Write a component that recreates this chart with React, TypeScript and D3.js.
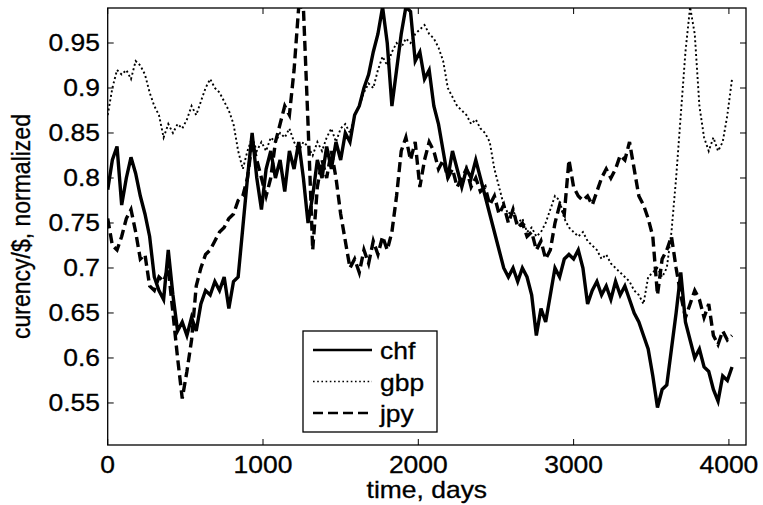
import React from "react";
import * as d3 from "d3";

// sampling grid of the plotted series (days)
const days = d3.range(0, 4021, 30);

// values, one per 30 days
const chf = [
  0.787, 0.82, 0.835, 0.77, 0.8, 0.823, 0.805, 0.78, 0.76, 0.735,
  0.69, 0.675, 0.665, 0.72, 0.67, 0.63, 0.64, 0.625, 0.645, 0.63,
  0.66, 0.675, 0.67, 0.685, 0.675, 0.69, 0.655, 0.685, 0.69, 0.745,
  0.8, 0.85, 0.8, 0.765, 0.81, 0.83, 0.8, 0.82, 0.785, 0.83,
  0.81, 0.84, 0.8, 0.75, 0.78, 0.82, 0.8, 0.835, 0.81, 0.84,
  0.82, 0.85, 0.84, 0.87, 0.88, 0.9, 0.915, 0.94, 0.96, 0.99,
  0.95, 0.88, 0.92, 0.96, 0.99, 0.985, 0.93, 0.94, 0.91, 0.92,
  0.88, 0.86, 0.83, 0.8, 0.83, 0.81, 0.79, 0.81, 0.8, 0.82,
  0.8, 0.78, 0.76, 0.74, 0.72, 0.7, 0.69, 0.7, 0.685, 0.7,
  0.69, 0.67, 0.625, 0.655, 0.64, 0.67, 0.7, 0.69, 0.71, 0.715,
  0.71, 0.72, 0.7, 0.66, 0.675, 0.685, 0.67, 0.68, 0.665, 0.685,
  0.67, 0.68, 0.665, 0.65, 0.64, 0.625, 0.61, 0.58, 0.545, 0.565,
  0.57, 0.61, 0.65, 0.695, 0.64, 0.62, 0.6, 0.61, 0.59, 0.585,
  0.565, 0.552, 0.58, 0.575, 0.59,
];

const gbp = [
  0.87, 0.9, 0.92, 0.915, 0.92, 0.91, 0.93, 0.925, 0.915, 0.895,
  0.88, 0.87, 0.845, 0.86, 0.85, 0.86, 0.855, 0.865, 0.88, 0.87,
  0.885, 0.9, 0.91, 0.9, 0.895, 0.885, 0.875, 0.86, 0.83, 0.81,
  0.83, 0.845, 0.83, 0.84, 0.83, 0.845, 0.84, 0.85, 0.845, 0.855,
  0.84, 0.83, 0.84, 0.835, 0.825, 0.84, 0.83, 0.845, 0.855, 0.84,
  0.855, 0.86, 0.85, 0.87, 0.88, 0.895, 0.905, 0.9, 0.92, 0.935,
  0.925, 0.94, 0.95, 0.945, 0.955, 0.95, 0.96, 0.965, 0.97, 0.96,
  0.955, 0.945, 0.93, 0.9, 0.89, 0.88, 0.875, 0.87, 0.86, 0.865,
  0.855, 0.85, 0.84, 0.81, 0.79, 0.77, 0.76, 0.765, 0.75, 0.755,
  0.74, 0.745, 0.735, 0.74, 0.75, 0.765, 0.78, 0.775, 0.755, 0.745,
  0.74, 0.735, 0.74, 0.73, 0.725, 0.72, 0.71, 0.715, 0.705, 0.7,
  0.695, 0.69, 0.685, 0.675, 0.67, 0.66, 0.69, 0.695, 0.7, 0.69,
  0.7, 0.74, 0.8, 0.87, 0.94, 0.99, 0.96, 0.88, 0.845, 0.83,
  0.845, 0.83, 0.84, 0.87, 0.91,
];

const jpy = [
  0.755, 0.725, 0.72, 0.735, 0.755, 0.765, 0.74, 0.71, 0.715, 0.68,
  0.675, 0.69, 0.685, 0.7, 0.65, 0.6, 0.555, 0.585, 0.62, 0.68,
  0.7, 0.715, 0.72, 0.73, 0.74, 0.745, 0.755, 0.76, 0.775, 0.78,
  0.8, 0.84, 0.82, 0.8, 0.78, 0.8, 0.84, 0.86, 0.88, 0.87,
  0.92, 0.99, 0.99, 0.86, 0.72, 0.79, 0.82, 0.8, 0.83, 0.8,
  0.76, 0.73, 0.7, 0.71, 0.695, 0.72, 0.705, 0.73, 0.715, 0.735,
  0.72, 0.74, 0.78, 0.83, 0.845, 0.82, 0.84, 0.79, 0.82, 0.84,
  0.83, 0.81, 0.82, 0.8, 0.81, 0.79, 0.8, 0.81, 0.79, 0.8,
  0.785, 0.79, 0.77, 0.78, 0.76, 0.77, 0.75, 0.765, 0.745, 0.75,
  0.735, 0.74, 0.72, 0.73, 0.71, 0.72, 0.75, 0.77, 0.76, 0.82,
  0.79, 0.78, 0.775, 0.78, 0.77, 0.785, 0.8, 0.81, 0.8, 0.81,
  0.825, 0.82, 0.84, 0.81, 0.78, 0.77, 0.755, 0.735, 0.67, 0.71,
  0.72, 0.735, 0.7, 0.67, 0.645, 0.66, 0.675, 0.665, 0.645, 0.66,
  0.625, 0.615, 0.63, 0.62, 0.625,
];

const xTicks = [0, 1000, 2000, 3000, 4000];
const yTicks = [0.55, 0.6, 0.65, 0.7, 0.75, 0.8, 0.85, 0.9, 0.95];
const legendNames = ["chf", "gbp", "jpy"];

const W = 763;
const H = 505;
const left = 107.7;
const right = 746;
const top = 8;
const bottom = 445;
const font = "'Liberation Sans', Arial, Helvetica, sans-serif";
const fs = 23;
const sx = 1.15; // the picture is a bit wider than tall

const styles = [
  { width: 3.4, dash: "none" },
  { width: 1.9, dash: "2,2.6" },
  { width: 3.4, dash: "10,5" },
];

function Label({ x, y, anchor, children }) {
  return (
    <text
      transform={`translate(${x},${y}) scale(${sx},1)`}
      textAnchor={anchor}
      fontFamily={font}
      fontSize={fs}
      fill="#000"
      stroke="#000"
      strokeWidth={0.3}
    >
      {children}
    </text>
  );
}

export default function App() {
  const x = d3.scaleLinear().domain([0, 4110]).range([left, right]);
  const y = d3.scaleLinear().domain([0.5033, 0.9889]).range([bottom, top]);

  const line = d3
    .line<number>()
    .x((_, i) => x(days[i]))
    .y((d) => y(d));

  const series = [chf, gbp, jpy];
  const tickLen = 6;

  return (
    <svg
      width={W}
      height={H}
      style={{ position: "absolute", left: 0, top: 0, background: "#fff" }}
    >
      <defs>
        <clipPath id="plot">
          <rect x={left} y={top} width={right - left} height={bottom - top} />
        </clipPath>
      </defs>
      <rect width={W} height={H} fill="#fff" />

      <g clipPath="url(#plot)">
        {series.map((s, k) => (
          <path
            key={k}
            d={line(s) || ""}
            fill="none"
            stroke="#000"
            strokeWidth={styles[k].width}
            strokeDasharray={styles[k].dash}
            strokeLinejoin="miter"
          />
        ))}
      </g>

      {/* axes box + inward ticks */}
      <rect
        x={left}
        y={top}
        width={right - left}
        height={bottom - top}
        fill="none"
        stroke="#000"
        strokeWidth={1.3}
      />
      {xTicks.map((t) => (
        <g key={"x" + t}>
          <line x1={x(t)} x2={x(t)} y1={bottom} y2={bottom - tickLen} stroke="#000" />
          <line x1={x(t)} x2={x(t)} y1={top} y2={top + tickLen} stroke="#000" />
          <Label x={x(t)} y={473} anchor="middle">
            {String(t)}
          </Label>
        </g>
      ))}
      {yTicks.map((t) => (
        <g key={"y" + t}>
          <line x1={left} x2={left + tickLen} y1={y(t)} y2={y(t)} stroke="#000" />
          <line x1={right} x2={right - tickLen} y1={y(t)} y2={y(t)} stroke="#000" />
          <Label x={100} y={y(t) + 8} anchor="end">
            {String(t)}
          </Label>
        </g>
      ))}

      <Label x={(left + right) / 2} y={498} anchor="middle">
        time, days
      </Label>
      <text
        transform={`translate(30,${(top + bottom) / 2}) rotate(-90) scale(1,${sx})`}
        textAnchor="middle"
        fontFamily={font}
        fontSize={fs}
        fill="#000"
        stroke="#000"
        strokeWidth={0.3}
      >
        curency/$, normalized
      </text>

      {/* legend */}
      <rect x={303} y={331} width={134} height={101} fill="#fff" stroke="#000" strokeWidth={1.3} />
      {legendNames.map((n, k) => {
        const ly = 350 + k * 31.5;
        return (
          <g key={n}>
            <line
              x1={313}
              x2={372}
              y1={ly}
              y2={ly}
              stroke="#000"
              strokeWidth={k === 1 ? 1.6 : 2.4}
              strokeDasharray={k === 1 ? "1.6,2.6" : styles[k].dash}
            />
            <Label x={380} y={ly + 9} anchor="start">
              {n}
            </Label>
          </g>
        );
      })}
    </svg>
  );
}
